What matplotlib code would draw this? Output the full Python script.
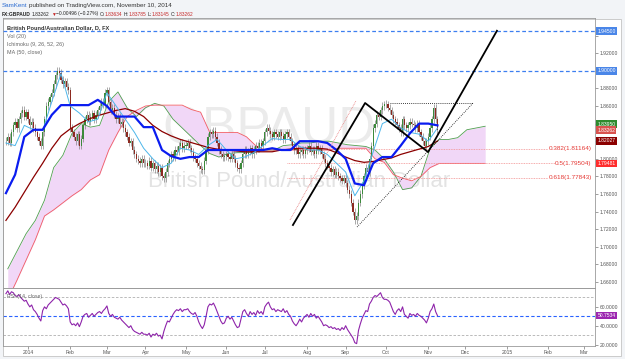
import numpy as np
import pandas as pd
import matplotlib
matplotlib.use("Agg")
import matplotlib.pyplot as plt
from matplotlib.patches import Rectangle

plt.rcParams['font.family'] = ['Liberation Sans', 'DejaVu Sans']

W, H = 625, 359

# daily closes GBP/AUD, one list per month (Dec 16 2013 .. Nov 10 2014)
close_dec = [1.8200, 1.8250, 1.8180, 1.8300, 1.8380, 1.8420, 1.8350, 1.8450, 1.8520, 1.8560, 1.8480, 1.8530]
close_jan = [1.8450, 1.8380, 1.8420, 1.8350, 1.8300, 1.8250, 1.8200, 1.8150, 1.8300, 1.8450, 1.8600, 1.8650,
             1.8700, 1.8750, 1.8850, 1.8950, 1.9000, 1.8980, 1.8900, 1.8850, 1.8880, 1.8820, 1.8780]
close_feb = [1.8350, 1.8300, 1.8250, 1.8200, 1.8280, 1.8150, 1.8230, 1.8380, 1.8450, 1.8500, 1.8420, 1.8480,
             1.8520, 1.8450, 1.8500, 1.8550, 1.8600, 1.8650, 1.8620, 1.8750]
close_mar = [1.8780, 1.8650, 1.8550, 1.8580, 1.8500, 1.8450, 1.8480, 1.8400, 1.8420, 1.8350, 1.8300, 1.8250,
             1.8180, 1.8200, 1.8100, 1.8050, 1.8000, 1.7980, 1.7950, 1.8000, 1.7950]
close_apr = [1.7950, 1.7920, 1.7980, 1.7900, 1.7950, 1.7880, 1.7920, 1.7850, 1.7900, 1.7800, 1.7780, 1.7850,
             1.7950, 1.8000, 1.8050, 1.8020, 1.8100, 1.8080, 1.8150, 1.8180, 1.8120, 1.8150]
close_may = [1.8150, 1.8180, 1.8120, 1.8080, 1.8020, 1.8000, 1.7950, 1.7920, 1.7880, 1.7870, 1.7980, 1.8100,
             1.8250, 1.8300, 1.8280, 1.8320, 1.8250, 1.8180, 1.8100, 1.8050, 1.8020, 1.8030]
close_jun = [1.8050, 1.8020, 1.8000, 1.8050, 1.8000, 1.7950, 1.7900, 1.7880, 1.7950, 1.8050, 1.8100, 1.8050,
             1.8080, 1.8120, 1.8050, 1.8100, 1.8150, 1.8120, 1.8180, 1.8150, 1.8200]
close_jul = [1.8300, 1.8350, 1.8320, 1.8280, 1.8250, 1.8300, 1.8280, 1.8250, 1.8300, 1.8260, 1.8220, 1.8280,
             1.8300, 1.8250, 1.8200, 1.8150, 1.8100, 1.8120, 1.8050, 1.8080, 1.8100, 1.8050, 1.8100]
close_aug = [1.8120, 1.8150, 1.8080, 1.8100, 1.8050, 1.8150, 1.8100, 1.8120, 1.8050, 1.8000, 1.7950, 1.7920,
             1.7900, 1.7850, 1.7880, 1.7820, 1.7850, 1.7800, 1.7780, 1.7750, 1.7780]
close_sep = [1.7720, 1.7650, 1.7600, 1.7500, 1.7400, 1.7300, 1.7350, 1.7500, 1.7600, 1.7700, 1.7800, 1.7900,
             1.7850, 1.8000, 1.8150, 1.8350, 1.8400, 1.8500, 1.8480, 1.8550, 1.8600, 1.8620]
close_oct = [1.8620, 1.8580, 1.8550, 1.8500, 1.8450, 1.8420, 1.8380, 1.8350, 1.8300, 1.8450, 1.8380, 1.8350,
             1.8380, 1.8420, 1.8400, 1.8380, 1.8350, 1.8400, 1.8300, 1.8250, 1.8200, 1.8150, 1.8200]
close_nov = [1.8250, 1.8350, 1.8450, 1.8580, 1.8450, 1.83262]

# RSI(14) per day, same layout
rsi_dec = [74, 77, 73, 76, 75, 72, 71, 73, 70, 68, 66, 67]
rsi_jan = [63, 60, 62, 57, 55, 52, 48, 45, 56, 60, 58, 62, 64, 66, 68, 70, 69, 68, 65, 62, 63, 61, 58]
rsi_feb = [44, 41, 42, 40, 43, 39, 44, 50, 52, 53, 49, 51, 53, 50, 52, 54, 55, 53, 56, 58]
rsi_mar = [61, 53, 50, 52, 49, 48, 47, 49, 46, 44, 42, 40, 38, 40, 36, 34, 33, 32, 31, 33, 31]
rsi_apr = [31, 30, 32, 28, 31, 30, 32, 29, 30, 26, 34, 40, 45, 44, 48, 52, 55, 57, 56, 58, 55, 57]
rsi_may = [57, 58, 55, 53, 52, 54, 50, 44, 40, 37, 41, 50, 60, 63, 62, 64, 60, 55, 50, 45, 42, 43]
rsi_jun = [48, 50, 47, 49, 45, 41, 38, 39, 47, 55, 57, 53, 50, 55, 52, 54, 51, 56, 53, 55, 52]
rsi_jul = [60, 63, 65, 60, 57, 58, 55, 57, 56, 55, 58, 54, 56, 52, 50, 45, 42, 40, 43, 47, 44, 48, 50]
rsi_aug = [52, 49, 53, 50, 52, 48, 50, 47, 44, 40, 41, 40, 38, 39, 37, 38, 36, 37, 35, 38, 36]
rsi_sep = [40, 36, 33, 30, 27, 22, 21, 35, 42, 48, 52, 56, 55, 63, 66, 70, 72, 71, 73, 75, 70, 68]
rsi_oct = [68, 67, 65, 60, 55, 52, 56, 58, 55, 60, 52, 50, 48, 53, 51, 52, 50, 53, 51, 50, 48, 46, 43]
rsi_nov = [48, 55, 58, 63, 55, 50.7534]

# indicator lines, sampled every 5 bars
ma50 = [1.730, 1.745, 1.762, 1.779, 1.795, 1.812, 1.826, 1.834, 1.840, 1.845,
        1.849, 1.852, 1.855, 1.857, 1.854, 1.848, 1.838, 1.831, 1.826, 1.822,
        1.819, 1.816, 1.813, 1.811, 1.810, 1.809, 1.808, 1.808, 1.808, 1.808,
        1.810, 1.811, 1.812, 1.812, 1.812, 1.811, 1.807, 1.802, 1.798, 1.796,
        1.797, 1.799, 1.801, 1.805, 1.808, 1.811, 1.814, 1.8203]
tenkan = [1.818, 1.815, 1.838, 1.833, 1.832, 1.865, 1.897, 1.860, 1.852, 1.842,
          1.845, 1.875, 1.860, 1.845, 1.830, 1.812, 1.800, 1.790, 1.795, 1.812,
          1.810, 1.805, 1.815, 1.822, 1.810, 1.800, 1.802, 1.807, 1.815, 1.823,
          1.822, 1.822, 1.814, 1.810, 1.810, 1.805, 1.795, 1.785, 1.758, 1.775,
          1.808, 1.840, 1.845, 1.835, 1.830, 1.828, 1.820, 1.835]
kijun = [1.761, 1.782, 1.825, 1.833, 1.833, 1.850, 1.861, 1.861, 1.861, 1.861,
         1.867, 1.860, 1.848, 1.848, 1.848, 1.836, 1.836, 1.810, 1.803, 1.800,
         1.802, 1.802, 1.810, 1.810, 1.810, 1.810, 1.810, 1.810, 1.810, 1.812,
         1.810, 1.810, 1.820, 1.820, 1.820, 1.818, 1.810, 1.800, 1.772, 1.770,
         1.795, 1.802, 1.802, 1.815, 1.829, 1.840, 1.840, 1.838]
# leading spans (shifted 26 bars ahead)
span_a = [1.675, 1.695, 1.715, 1.730, 1.753, 1.790, 1.804, 1.829, 1.840, 1.836,
          1.838, 1.865, 1.876, 1.858, 1.848, 1.858, 1.863, 1.860, 1.845, 1.835,
          1.825, 1.815, 1.806, 1.802, 1.806, 1.807, 1.807, 1.808, 1.810, 1.810,
          1.815, 1.816, 1.818, 1.818, 1.820, 1.820, 1.818, 1.816, 1.815, 1.814,
          1.810, 1.800, 1.785, 1.765, 1.767, 1.780, 1.812, 1.822, 1.822, 1.824,
          1.833, 1.835, 1.837]
span_b = [1.640, 1.662, 1.685, 1.708, 1.735, 1.742, 1.750, 1.758, 1.765, 1.776,
          1.782, 1.810, 1.830, 1.848, 1.855, 1.860, 1.861, 1.861, 1.861, 1.861,
          1.856, 1.853, 1.830, 1.830, 1.830, 1.830, 1.825, 1.815, 1.810, 1.810,
          1.810, 1.810, 1.810, 1.810, 1.810, 1.810, 1.812, 1.812, 1.812, 1.812,
          1.800, 1.796, 1.782, 1.778, 1.775, 1.780, 1.790, 1.7948, 1.7948, 1.7948,
          1.7948, 1.7948, 1.7948]

# drawings (bar index, price)
abcd_idx = [156.3, 195.6, 229.9, 267.4]
abcd_price = [1.7248, 1.8634, 1.8077, 1.9455]
tri_top_idx = [209.2, 254.4]
tri_top_price = [1.8634, 1.8634]
tri_diag_idx = [191.2, 254.4]
tri_diag_price = [1.7225, 1.8634]
channel_idx = [154.7, 190.6]
channel_price = [1.7305, 1.8657]
fib_levels = [0.382, 0.5, 0.618]
fib_prices = [1.81164, 1.79504, 1.77843]
fib_range = [153, 319]
hlines = [1.945, 1.900]
rsi_line = 50.7534

price_tags = [(1.945, '1.94500', '#4a86e8'), (1.900, '1.90000', '#4a86e8'),
              (1.8395, '1.83950', '#2e8b2e'), (1.83262, '1.83262', '#d9534f'),
              (1.82027, '1.82027', '#8b0000'), (1.79481, '1.79481', '#ff2d2d')]
hidden_ticks = [1.82, 1.84, 1.90, 1.94]

closes = np.array(close_dec + close_jan + close_feb + close_mar + close_apr + close_may +
                  close_jun + close_jul + close_aug + close_sep + close_oct + close_nov)
rsi = np.array(rsi_dec + rsi_jan + rsi_feb + rsi_mar + rsi_apr + rsi_may +
               rsi_jun + rsi_jul + rsi_aug + rsi_sep + rsi_oct + rsi_nov, dtype=float)

dates = pd.bdate_range(end='2014-11-10', periods=len(closes))
axis_dates = pd.bdate_range(dates[0], '2015-03-31')
x = np.arange(len(closes))
wk = np.arange(0, len(closes), 5)
span_x = np.arange(1, 1 + 5 * len(span_a), 5)

fig = plt.figure(figsize=(W / 100, H / 100), dpi=100, facecolor='#f2f4f7')
fig.patches.append(Rectangle((3 / W, 3 / H), 618 / W, 337 / H, transform=fig.transFigure,
                             fc='white', ec='#c4c4c4', lw=0.6, zorder=-10))

ax = fig.add_axes([3 / W, 71 / H, 592 / W, 270 / H])
rax = fig.add_axes([3 / W, 13 / H, 592 / W, 58 / H], sharex=ax)
for a in (ax, rax):
    a.set_facecolor('none')
    for s in a.spines.values():
        s.set_color('#9a9a9a')
        s.set_linewidth(0.6)

# watermark
ax.text(0.45, 0.585, 'GBPAUD', transform=ax.transAxes, fontsize=37, color='#ebebeb',
        ha='center', va='center', zorder=0)
ax.text(0.50, 0.395, 'British Pound/Australian Dollar', transform=ax.transAxes, fontsize=16,
        color='#e3e3e3', ha='center', va='center', zorder=0)

# ichimoku cloud
ax.fill_between(span_x, span_a, span_b, color='#f1d7f7', lw=0, zorder=1)
ax.plot(span_x, span_a, color='#4f9e4f', lw=0.6, zorder=2)
ax.plot(span_x, span_b, color='#f25c63', lw=0.6, zorder=2)

# candles
opens = np.r_[closes[0], closes[:-1]]
up = closes >= opens
lo = np.minimum(opens, closes)
bh = np.maximum(np.abs(closes - opens), 0.0008)
wick = 0.004
ax.vlines(x, lo - wick, lo + bh + wick, color='#7a7a7a', lw=0.45, zorder=3)
ax.bar(x[up], bh[up], bottom=lo[up], width=0.7, color='#3b8a3b', lw=0, zorder=3.5)
ax.bar(x[~up], bh[~up], bottom=lo[~up], width=0.7, color='#8c2a20', lw=0, zorder=3.5)

ax.plot(wk, ma50, color='#8b0000', lw=0.9, zorder=4)
ax.plot(wk, tenkan, color='#4cb6ea', lw=0.7, zorder=4)
ax.plot(wk, kijun, color='#0a1cf0', lw=1.6, zorder=4.2)

# drawings
for p in hlines:
    ax.plot([-1.6, 320.8], [p, p], color='#3d7ff0', lw=0.9, ls=(0, (3, 2)), zorder=2.6)
ax.plot(channel_idx, channel_price, color='#e88080', lw=0.6, ls=(0, (1, 1)), zorder=5)
ax.plot(abcd_idx, abcd_price, color='black', lw=1.3, zorder=5)
ax.plot(tri_top_idx, tri_top_price, color='black', lw=0.6, ls=(0, (1, 1.5)), zorder=5)
ax.plot(tri_diag_idx, tri_diag_price, color='black', lw=0.6, ls=(0, (1, 1.5)), zorder=5)
for lvl, p in zip(fib_levels, fib_prices):
    ax.plot(fib_range, [p, p], color='#f29090', lw=0.6, ls=(0, (1, 1)), zorder=2)
    ax.text(fib_range[1], p, f'{lvl}({p:.5f})', color='#e53935', fontsize=4.6, ha='right',
            va='center', zorder=6, bbox=dict(fc='white', ec='none', pad=0.2))

ax.set_xlim(-1.6, 320.8)
ax.set_ylim(1.6532, 1.96)
ax.yaxis.tick_right()
ticks = np.round(np.arange(1.66, 1.9401, 0.02), 2)
ax.set_yticks(ticks)
ax.set_yticklabels(['' if t in hidden_ticks else f'{t:.5f}' for t in ticks])
ax.tick_params(axis='y', labelsize=3.6, colors='#555555', length=2, width=0.4, pad=1.5)
ax.tick_params(axis='x', bottom=False, labelbottom=False)
for p, s, c in price_tags:
    ax.text(1.004, p, s, transform=ax.get_yaxis_transform(), fontsize=3.6, color='white',
            ha='left', va='center', zorder=7, clip_on=False,
            bbox=dict(boxstyle='square,pad=0.25', fc=c, ec='none'))

# RSI panel
rax.plot(x, rsi, color='#8e24aa', lw=0.8, zorder=3)
for v in (70, 30):
    rax.axhline(v, color='#b0b0b0', lw=0.6, ls=(0, (3, 2)))
rax.axhline(rsi_line, color='#2962ff', lw=0.8, ls=(0, (3, 2)))
rax.set_ylim(18.5, 80)
rax.yaxis.tick_right()
rax.set_yticks([20, 40, 60])
rax.yaxis.set_major_formatter(plt.FormatStrFormatter('%.4f'))
rax.tick_params(axis='y', labelsize=3.6, colors='#555555', length=2, width=0.4, pad=1.5)
rax.text(1.004, rsi_line, f'{rsi_line:.4f}', transform=rax.get_yaxis_transform(), fontsize=3.6,
         color='white', ha='left', va='center', zorder=7, clip_on=False,
         bbox=dict(boxstyle='square,pad=0.25', fc='#9c27b0', ec='none'))
rax.text(0.007, 0.86, 'RSI (14, close)', transform=rax.transAxes, fontsize=3.8, color='#666666',
         va='center')

months = pd.date_range('2014-01-01', '2015-03-01', freq='MS')
mpos = [axis_dates.searchsorted(m) for m in months]
mlab = [str(m.year) if m.month == 1 else m.strftime('%b') for m in months]
rax.set_xticks(mpos)
rax.set_xticklabels(mlab)
rax.tick_params(axis='x', labelsize=3.6, colors='#555555', length=2, width=0.4, pad=1)

# legend texts
def fig_text(px, py, s, **kw):
    return fig.text(px / W, 1 - py / H, s, va='center', **kw)

fig_text(7, 28, 'British Pound/Australian Dollar, D, FX', fontsize=4.1, color='#333333',
         fontweight='bold')
fig_text(7, 36.5, 'Vol (20)', fontsize=3.9, color='#666666')
fig_text(7, 44.5, 'Ichimoku (9, 26, 52, 26)', fontsize=3.9, color='#666666')
fig_text(7, 52.5, 'MA (50, close)', fontsize=3.9, color='#666666')

# header
renderer = fig.canvas.get_renderer()

def text_run(px, py, parts, size):
    for s, c, w, gap in parts:
        t = fig_text(px, py, s, fontsize=size, color=c, fontweight=w)
        px += t.get_window_extent(renderer=renderer).width + gap

text_run(2, 5.5, [('SamKent', '#2a6bd1', 'normal', 1.4),
                  ('published on TradingView.com, November 10, 2014', '#333333', 'normal', 0)], 4.5)
red = '#c62828'
text_run(2, 14, [('FX:GBPAUD', '#222222', 'bold', 1.2), ('1.83262', '#222222', 'normal', 0.9),
                 ('▼', red, 'normal', 0.9), ('\u22120.00496 (\u22120.27%)', '#222222', 'normal', 1.2),
                 ('O:', '#222222', 'normal', 0), ('1.83634', red, 'normal', 1.2),
                 ('H:', '#222222', 'normal', 0), ('1.83785', red, 'normal', 1.2),
                 ('L:', '#222222', 'normal', 0), ('1.83145', red, 'normal', 1.2),
                 ('C:', '#222222', 'normal', 0), ('1.83262', red, 'normal', 0)], 3.55)

fig.savefig('out.png', dpi=100, facecolor=fig.get_facecolor())
